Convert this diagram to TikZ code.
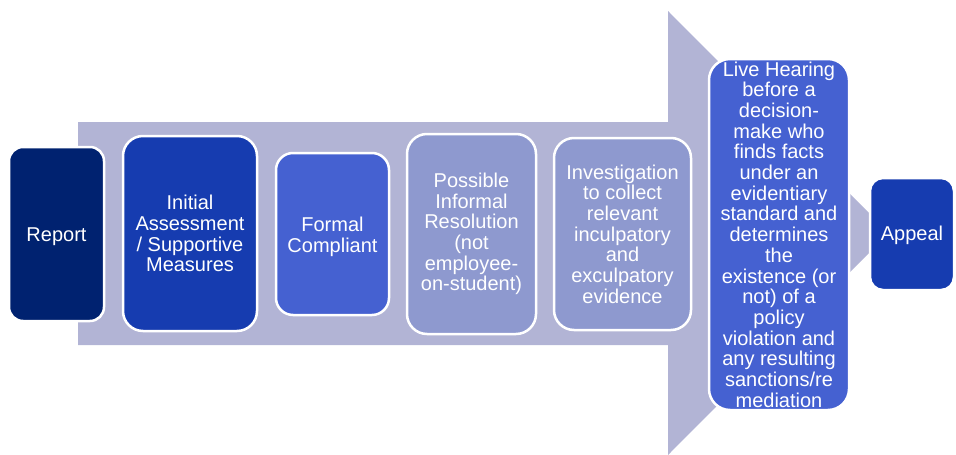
\documentclass[tikz,border=0pt]{standalone}
\usepackage{fontspec}
\setmainfont{Liberation Sans}
\definecolor{arrowbg}{HTML}{B2B4D5}
\definecolor{navy}{HTML}{002270}
\definecolor{royal}{HTML}{163CB0}
\definecolor{midblue}{HTML}{4561D1}
\definecolor{lavender}{HTML}{8E99CF}
\begin{document}
\begin{tikzpicture}[x=1pt,y=-1pt,
  stepbox/.style={rectangle, draw=white, line width=2.5pt, text=white,
    align=center, inner sep=0pt, font=\fontsize{20}{20.7}\selectfont},
  steptext/.style={text=white, align=center, inner sep=0pt,
    font=\fontsize{20}{20.7}\selectfont},
]
\useasboundingbox (0,0) rectangle (956,455);
% big arrow
\fill[arrowbg] (78,122) -- (668,122) -- (668,11) -- (889,233) -- (668,455)
  -- (668,345) -- (78,345) -- cycle;
% boxes
\node[stepbox, fill=navy, rounded corners=14pt, minimum width=95pt, minimum height=174pt,
  label={[steptext, yshift=-3pt]center:Report}]
  (report) at (56.5,234) {};
\node[stepbox, fill=royal, rounded corners=20pt, minimum width=134pt, minimum height=195pt]
  (initial) at (190,233.5) {Initial\\Assessment\\/ Supportive\\Measures};
\node[stepbox, fill=midblue, rounded corners=17pt, minimum width=113pt, minimum height=162pt,
  label={[steptext, yshift=-3pt]center:Formal\\Compliant}]
  (formal) at (332.5,234) {};
\node[stepbox, fill=lavender, rounded corners=20pt, minimum width=129pt, minimum height=200pt]
  (informal) at (471.5,234) {Possible\\Informal\\Resolution\\(not\\employee-\\on-student)};
\node[stepbox, fill=lavender, rounded corners=20pt, minimum width=137pt, minimum height=192pt]
  (invest) at (622.5,234) {Investigation\\to collect\\relevant\\inculpatory\\and\\exculpatory\\evidence};
\node[stepbox, fill=midblue, rounded corners=21pt, minimum width=140pt, minimum height=351pt]
  (hearing) at (779,234.5) {Live Hearing\\before a\\decision-\\make who\\finds facts\\under an\\evidentiary\\standard and\\determines\\the\\existence (or\\not) of a\\policy\\violation and\\any resulting\\sanctions/re\\mediation};
\node[stepbox, fill=royal, rounded corners=13pt, minimum width=84pt, minimum height=112pt,
  label={[steptext, yshift=-1.5pt]center:Appeal}]
  (appeal) at (912,234) {};
\end{tikzpicture}
\end{document}
